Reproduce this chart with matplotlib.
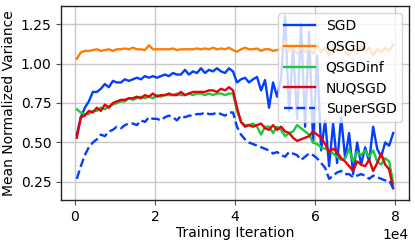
import numpy as np
import matplotlib
matplotlib.use("Agg")
import matplotlib.pyplot as plt

iterations = np.arange(500, 80000, 1000)

sgd = [0.55, 0.66, 0.72, 0.76, 0.82, 0.82, 0.84, 0.87, 0.85, 0.89,
       0.88, 0.88, 0.90, 0.89, 0.90, 0.91, 0.90, 0.92, 0.91, 0.92,
       0.91, 0.92, 0.93, 0.92, 0.94, 0.93, 0.93, 0.96, 0.93, 0.95,
       0.94, 0.97, 0.94, 0.96, 0.95, 0.97, 0.95, 0.94, 0.97, 0.95,
       0.88, 0.90, 0.91, 0.88, 0.90, 0.915, 0.83, 0.895, 0.72, 0.88,
       0.79, 0.90, 1.30, 0.70, 1.10, 0.65, 1.25, 0.60, 1.20, 0.50,
       1.05, 0.45, 0.64, 0.35, 0.62, 0.37, 0.66, 0.40, 0.56, 0.30,
       0.50, 0.36, 0.47, 0.38, 0.60, 0.46, 0.41, 0.50, 0.48, 0.56]

qsgd = [1.03, 1.07, 1.08, 1.08, 1.085, 1.09, 1.08, 1.085, 1.09, 1.08,
        1.09, 1.09, 1.095, 1.09, 1.10, 1.09, 1.09, 1.085, 1.115, 1.09,
        1.09, 1.09, 1.09, 1.09, 1.095, 1.085, 1.09, 1.09, 1.09, 1.09,
        1.095, 1.09, 1.095, 1.09, 1.10, 1.09, 1.095, 1.09, 1.10, 1.085,
        1.075, 1.09, 1.10, 1.09, 1.09, 1.095, 1.08, 1.09, 1.09, 1.08,
        1.085, 1.095, 1.14, 1.08, 1.10, 1.06, 1.11, 1.07, 1.10, 1.06,
        1.12, 1.07, 1.10, 1.05, 1.11, 1.08, 1.12, 1.07, 1.05, 1.10,
        1.06, 1.12, 1.08, 1.10, 1.05, 1.09, 1.07, 1.10, 1.08, 1.12]

qsgdinf = [0.71, 0.69, 0.68, 0.68, 0.70, 0.70, 0.72, 0.71, 0.73, 0.74,
           0.75, 0.76, 0.76, 0.78, 0.77, 0.78, 0.79, 0.78, 0.79, 0.78,
           0.80, 0.79, 0.80, 0.80, 0.80, 0.81, 0.80, 0.80, 0.81, 0.80,
           0.81, 0.81, 0.80, 0.81, 0.80, 0.81, 0.81, 0.80, 0.81, 0.81,
           0.70, 0.63, 0.61, 0.61, 0.62, 0.60, 0.55, 0.60, 0.60, 0.56,
           0.60, 0.58, 0.54, 0.56, 0.57, 0.61, 0.59, 0.57, 0.55, 0.50,
           0.49, 0.47, 0.46, 0.45, 0.43, 0.41, 0.39, 0.40, 0.46, 0.38,
           0.44, 0.42, 0.45, 0.41, 0.45, 0.38, 0.36, 0.40, 0.38, 0.24]

nuqsgd = [0.53, 0.66, 0.67, 0.70, 0.69, 0.72, 0.70, 0.74, 0.72, 0.75,
          0.76, 0.77, 0.77, 0.78, 0.78, 0.79, 0.78, 0.80, 0.79, 0.81,
          0.79, 0.80, 0.80, 0.81, 0.80, 0.80, 0.82, 0.80, 0.81, 0.82,
          0.82, 0.82, 0.82, 0.83, 0.83, 0.82, 0.84, 0.83, 0.85, 0.83,
          0.72, 0.63, 0.60, 0.61, 0.60, 0.61, 0.62, 0.59, 0.58, 0.61,
          0.58, 0.60, 0.57, 0.56, 0.53, 0.51, 0.52, 0.53, 0.54, 0.57,
          0.55, 0.53, 0.49, 0.44, 0.46, 0.44, 0.40, 0.38, 0.35, 0.32,
          0.38, 0.36, 0.35, 0.39, 0.32, 0.37, 0.43, 0.36, 0.33, 0.21]

supersgd = [0.27, 0.35, 0.42, 0.47, 0.50, 0.52, 0.55, 0.54, 0.57, 0.58,
            0.60, 0.59, 0.61, 0.62, 0.62, 0.61, 0.64, 0.63, 0.66, 0.65,
            0.65, 0.64, 0.66, 0.67, 0.66, 0.64, 0.67, 0.66, 0.67, 0.67,
            0.68, 0.68, 0.69, 0.68, 0.68, 0.69, 0.68, 0.67, 0.69, 0.69,
            0.60, 0.55, 0.52, 0.50, 0.49, 0.48, 0.47, 0.46, 0.45, 0.43,
            0.44, 0.42, 0.41, 0.44, 0.43, 0.42, 0.39, 0.41, 0.43, 0.42,
            0.40, 0.37, 0.34, 0.27, 0.29, 0.31, 0.32, 0.30, 0.30, 0.28,
            0.29, 0.30, 0.29, 0.27, 0.29, 0.28, 0.27, 0.26, 0.26, 0.21]

series = [("SGD", sgd, "#023eff", "-"),
          ("QSGD", qsgd, "#ff7c00", "-"),
          ("QSGDinf", qsgdinf, "#1ac938", "-"),
          ("NUQSGD", nuqsgd, "#e8000b", "-"),
          ("SuperSGD", supersgd, "#023eff", "--")]

fig = plt.figure(figsize=(4.15, 2.44), dpi=100)
ax = fig.add_axes([61/415, 1-200/244, (409-61)/415, (200-6)/244])
for label, vals, color, ls in series:
    ax.plot(iterations, vals, color=color, ls=ls, lw=1.7, label=label)

ax.set_xlim(-3450, 83450)
ax.set_ylim(0.136, 1.364)
ax.set_yticks([0.25, 0.50, 0.75, 1.00, 1.25])
ax.set_xticks([0, 20000, 40000, 60000, 80000])
ax.ticklabel_format(axis="x", style="sci", scilimits=(0, 0))
ax.grid(True, color="#c8c8c8", lw=1.0)
ax.set_axisbelow(True)
for s in ax.spines.values():
    s.set_color("#222222")
    s.set_linewidth(1.0)
ax.tick_params(labelsize=10, length=3.5, color="#555555")
ax.set_xlabel("Training Iteration", fontsize=10, labelpad=2)
ax.set_ylabel("Mean Normalized Variance", fontsize=10, labelpad=3)
ax.xaxis.get_offset_text().set_fontsize(10)
leg = ax.legend(loc="upper right", fontsize=10, framealpha=0.8,
                handlelength=2.2, borderpad=0.4, labelspacing=0.5)
fig.savefig("out.png", dpi=100)
